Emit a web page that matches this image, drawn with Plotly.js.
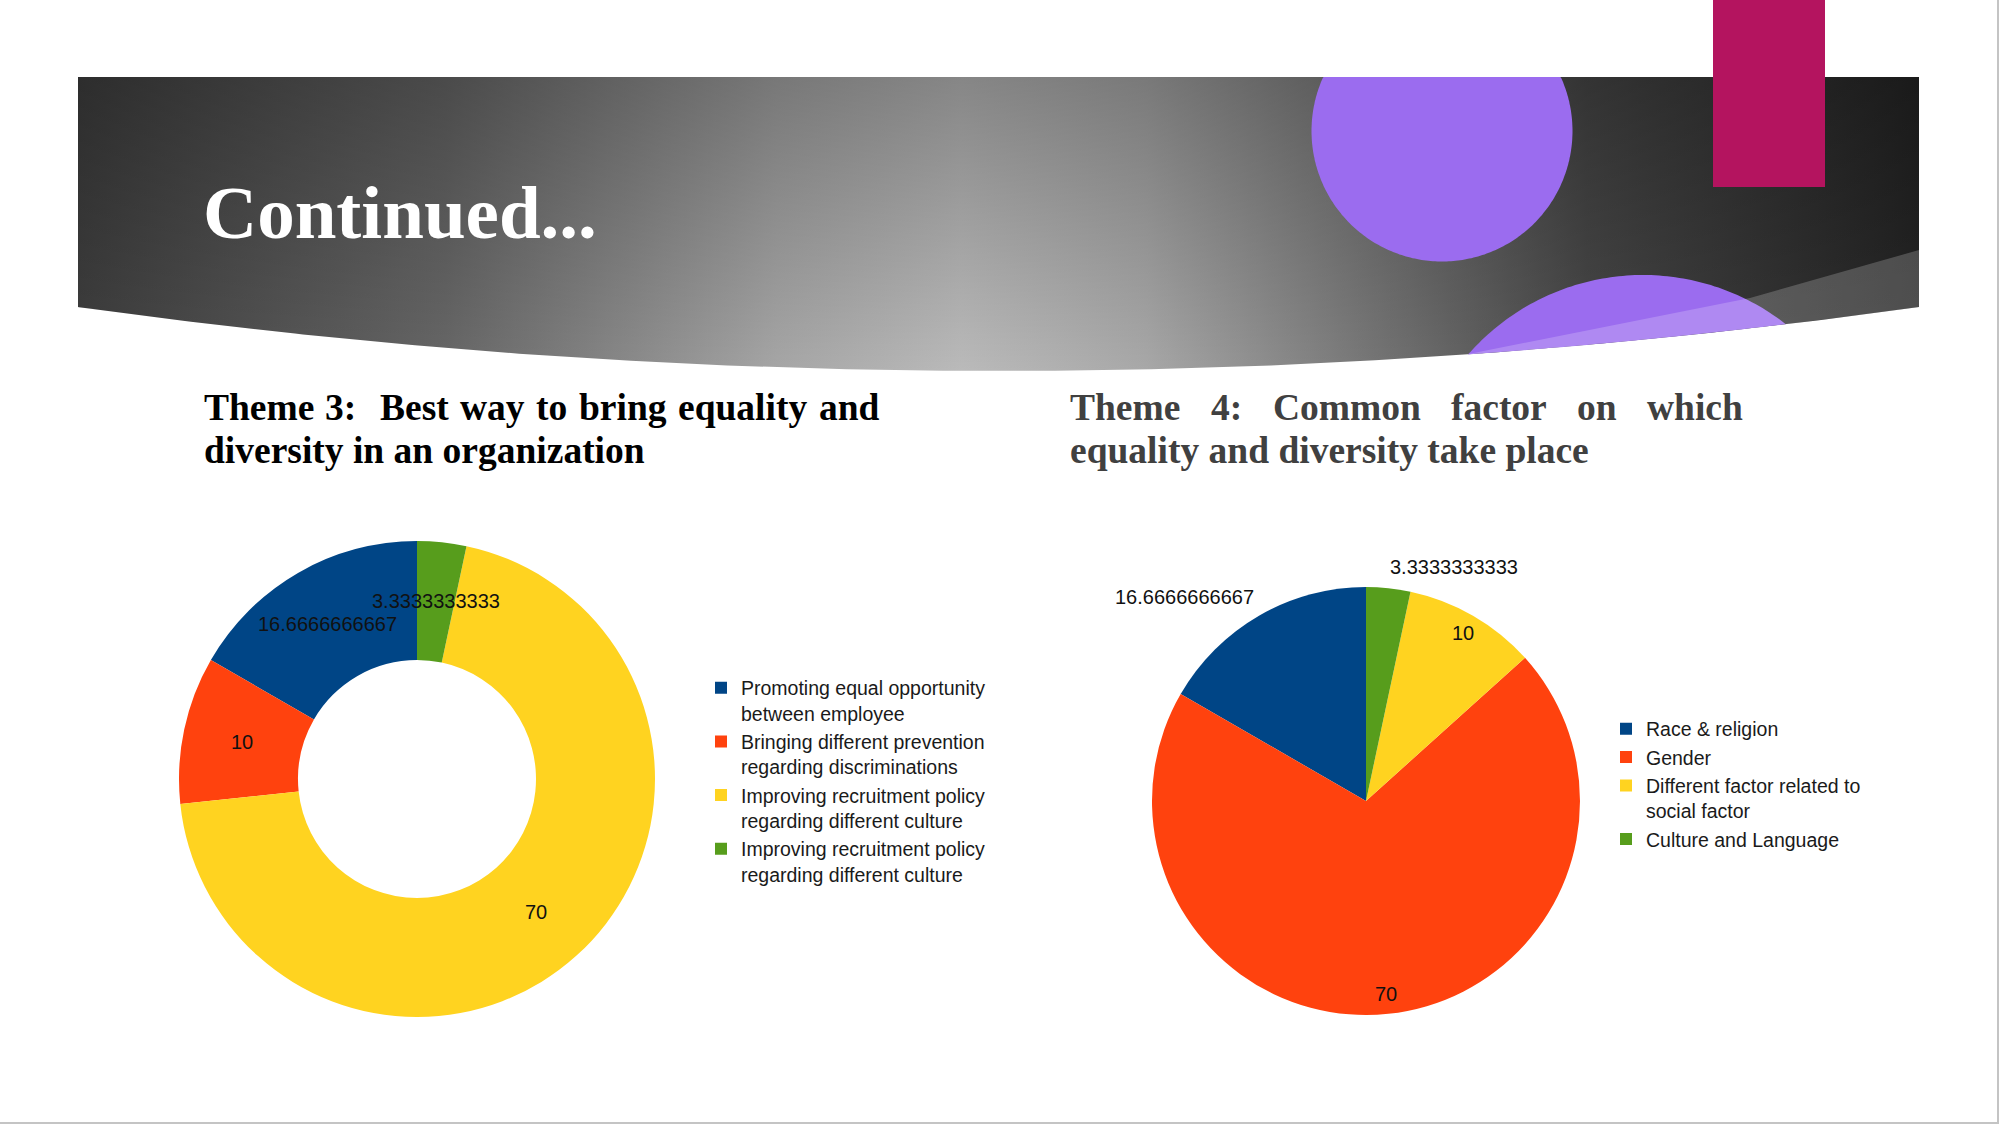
<!DOCTYPE html>
<html>
<head>
<meta charset="utf-8">
<script src="https://cdn.plot.ly/plotly-3.0.1.min.js"></script>
<style>
html, body { margin: 0; padding: 0; background: #ffffff; }
#chart { width: 2001px; height: 1125px; }
</style>
</head>
<body>
<div id="chart"></div>
<script>
// ---------------- DATA ----------------
const slideTitle = 'Continued...';
const theme3TitleLine1Words = ['Theme', '3:', '', 'Best', 'way', 'to', 'bring', 'equality', 'and'];
const theme3TitleLine2 = 'diversity in an organization';
const theme4TitleLine1Words = ['Theme', '4:', 'Common', 'factor', 'on', 'which'];
const theme4TitleLine2 = 'equality and diversity take place';

const theme3Labels = [
  'Promoting equal opportunity<br>between employee',
  'Bringing different prevention<br>regarding discriminations',
  'Improving recruitment policy<br>regarding different culture',
  'Improving recruitment policy<br>regarding different culture\u200B'
];
const theme3Values = [16.6666666667, 10, 70, 3.3333333333];

const theme4Labels = [
  'Race & religion',
  'Gender',
  'Different factor related to<br>social factor',
  'Culture and Language'
];
const theme4Values = [16.6666666667, 70, 10, 3.3333333333];

const theme3Colors = ['#004586', '#FF420E', '#FFD320', '#579D1C'];
const theme4Colors = ['#004586', '#FF420E', '#FFD320', '#579D1C'];

// ---------------- GEOMETRY / STYLE ----------------
const W = 2001, H = 1125;
const donut = { cx: 417, cy: 779, r: 238, hole: 0.5 };
const pie2 = { cx: 1366, cy: 801, r: 214 };
const pie2LabelMode = ['out', 'in', 'in', 'out'];

const bannerL = 78, bannerR = 1919, bannerT = 77, edgeY = 307, sagY = 371;
const midX = (bannerL + bannerR) / 2;
function curveY(x) {
  const k = (sagY - edgeY) / Math.pow((bannerR - bannerL) / 2, 2);
  return sagY - k * (x - midX) * (x - midX);
}

const bannerX = [bannerL, bannerR], bannerY = [bannerT, bannerT];
for (let x = bannerR; x >= bannerL; x -= 8) { bannerX.push(x); bannerY.push(curveY(x)); }
bannerX.push(bannerL); bannerY.push(curveY(bannerL));
bannerX.push(bannerL); bannerY.push(bannerT);

function clippedCircle(cx, cy, r) {
  const pts = [];
  for (let i = 0; i <= 360; i += 1) {
    const t = i * Math.PI / 180;
    const x = cx + r * Math.cos(t);
    let y = cy + r * Math.sin(t);
    y = Math.max(bannerT, Math.min(y, curveY(x)));
    pts.push(x.toFixed(1) + ',' + y.toFixed(1));
  }
  return 'M' + pts.join('L') + 'Z';
}

function overlayPath() {
  const pts = ['1919,250', '1750,298', '1466,' + curveY(1466).toFixed(1)];
  for (let x = 1476; x <= bannerR; x += 10) pts.push(x + ',' + curveY(x).toFixed(1));
  pts.push(bannerR + ',' + curveY(bannerR).toFixed(1));
  return 'M' + pts.join('L') + 'Z';
}

// ---------------- TRACES ----------------
const bannerTrace = {
  type: 'scatter', mode: 'lines', x: bannerX, y: bannerY,
  fill: 'toself', line: { width: 0 }, hoverinfo: 'skip', showlegend: false,
  fillgradient: {
    type: 'horizontal', start: bannerL, stop: bannerR,
    colorscale: [
      [0, '#3e3e3e'], [0.2, '#676767'], [0.38, '#a6a6a6'], [0.48, '#bababa'],
      [0.58, '#a8a8a8'], [0.7, '#777777'], [0.82, '#474747'], [1, '#242424']
    ]
  }
};
const bannerShade = {
  type: 'scatter', mode: 'lines', x: bannerX, y: bannerY,
  fill: 'toself', line: { width: 0 }, hoverinfo: 'skip', showlegend: false,
  fillgradient: {
    type: 'vertical', start: bannerT, stop: sagY,
    colorscale: [[0, 'rgba(0,0,0,0.28)'], [1, 'rgba(0,0,0,0)']]
  }
};

function domainOf(g) {
  return {
    x: [(g.cx - g.r) / W, (g.cx + g.r) / W],
    y: [1 - (g.cy + g.r) / H, 1 - (g.cy - g.r) / H]
  };
}
function sum(a) { return a.reduce((s, v) => s + v, 0); }

// first slice runs counter-clockwise from 12 o'clock
const pieTheme3 = {
  type: 'pie', labels: theme3Labels, values: theme3Values, hole: donut.hole,
  marker: { colors: theme3Colors, line: { width: 0 } },
  sort: false, direction: 'counterclockwise',
  rotation: -theme3Values[0] / sum(theme3Values) * 360,
  textinfo: 'none', domain: domainOf(donut), legend: 'legend',
  hoverinfo: 'label+value'
};
const pieTheme4 = {
  type: 'pie', labels: theme4Labels, values: theme4Values,
  marker: { colors: theme4Colors, line: { width: 0 } },
  sort: false, direction: 'counterclockwise',
  rotation: -theme4Values[0] / sum(theme4Values) * 360,
  textinfo: 'none', domain: domainOf(pie2), legend: 'legend2',
  hoverinfo: 'label+value'
};

// ---------------- DATA LABELS (positioned from the values) ----------------
const labelFont = { family: 'Liberation Sans, Arial, sans-serif', size: 20, color: '#111111' };
function sliceLabels(values, g, modeFn) {
  const total = sum(values);
  let cum = 0;
  return values.map((v, i) => {
    const a0 = cum / total * 2 * Math.PI; cum += v;
    const a1 = cum / total * 2 * Math.PI;
    const mid = (a0 + a1) / 2;
    const dx = -Math.sin(mid), dy = -Math.cos(mid);
    const m = modeFn(i);
    const x = g.cx + dx * g.r * m.f, y = g.cy + dy * g.r * m.f;
    let xanchor = 'center', xshift = 0;
    if (m.out) { xanchor = dx < 0 ? 'right' : 'left'; xshift = dx < 0 ? 8 : -3; }
    return {
      xref: 'x', yref: 'y', x: x, y: y, text: String(v), showarrow: false,
      xanchor: xanchor, yanchor: 'middle', xshift: xshift, font: labelFont
    };
  });
}
const donutLabels = sliceLabels(theme3Values, donut, () => ({ f: (1 + donut.hole) / 2, out: false }));
const pie2Labels = sliceLabels(theme4Values, pie2, i => pie2LabelMode[i] === 'out' ? { f: 1.1, out: true } : { f: 0.905, out: false });

// ---------------- TITLES ----------------
const serif = 'Liberation Serif, Times New Roman, serif';
const themeSize = 37.5;
function titleFont(color, size) { return { family: serif, size: size, color: color, weight: 700 }; }

// justify a line of words between two x positions
const measureCtx = document.createElement('canvas').getContext('2d');
measureCtx.font = 'bold ' + themeSize + 'px "Liberation Serif"';
function justifiedX(words, left, right) {
  const widths = words.map(w => measureCtx.measureText(w).width);
  const gap = (right - left - sum(widths)) / (words.length - 1);
  const xs = []; let x = left;
  words.forEach((w, i) => { xs.push(x); x += widths[i] + gap; });
  return xs;
}

const titleAnnots = [
  { xref: 'x', yref: 'y', x: 201, y: 212, text: slideTitle, showarrow: false, xanchor: 'left', yanchor: 'middle',
    font: titleFont('#ffffff', 75) },
  { xref: 'x', yref: 'y', x: 201.5, y: 450, text: theme3TitleLine2, showarrow: false, xanchor: 'left', yanchor: 'middle',
    font: titleFont('#000000', themeSize) },
  { xref: 'x', yref: 'y', x: 1068, y: 450, text: theme4TitleLine2, showarrow: false, xanchor: 'left', yanchor: 'middle',
    font: titleFont('#404040', themeSize) }
];
const theme3WordX = justifiedX(theme3TitleLine1Words, 201.5, 877);
theme3TitleLine1Words.forEach((w, i) => {
  if (!w) return;
  titleAnnots.push({ xref: 'x', yref: 'y', x: theme3WordX[i], y: 407.5, text: w, showarrow: false,
    xanchor: 'left', yanchor: 'middle', font: titleFont('#000000', themeSize) });
});
const theme4WordX = justifiedX(theme4TitleLine1Words, 1068, 1741);
theme4TitleLine1Words.forEach((w, i) => {
  titleAnnots.push({ xref: 'x', yref: 'y', x: theme4WordX[i], y: 407.5, text: w, showarrow: false,
    xanchor: 'left', yanchor: 'middle', font: titleFont('#404040', themeSize) });
});

// ---------------- SHAPES ----------------
const shapes = [
  { type: 'path', xref: 'x', yref: 'y', layer: 'above', path: clippedCircle(1442, 131, 130.5),
    fillcolor: '#9B6CEF', line: { width: 0 } },
  { type: 'path', xref: 'x', yref: 'y', layer: 'above', path: clippedCircle(1643, 507, 232),
    fillcolor: '#9B6CEF', line: { width: 0 } },
  { type: 'path', xref: 'x', yref: 'y', layer: 'above', path: overlayPath(),
    fillcolor: 'rgba(255,255,255,0.2)', line: { width: 0 } },
  { type: 'rect', xref: 'x', yref: 'y', layer: 'above', x0: 1713, x1: 1825, y0: 0, y1: 187,
    fillcolor: '#B4145F', line: { width: 0 } },
  { type: 'line', xref: 'x', yref: 'y', layer: 'above', x0: 1998, x1: 1998, y0: 0, y1: 1124,
    line: { color: '#c4c4c4', width: 2 } },
  { type: 'line', xref: 'x', yref: 'y', layer: 'above', x0: 0, x1: 1999, y0: 1123, y1: 1123,
    line: { color: '#c4c4c4', width: 2 } }
];

const legendFont = { family: 'Liberation Sans, Arial, sans-serif', size: 19.5, color: '#1a1a1a' };

const layout = {
  width: W, height: H,
  margin: { l: 0, r: 0, t: 0, b: 0, pad: 0 },
  paper_bgcolor: '#ffffff', plot_bgcolor: 'rgba(0,0,0,0)',
  xaxis: { range: [0, W], visible: false, fixedrange: true },
  yaxis: { range: [H, 0], visible: false, fixedrange: true },
  hovermode: 'closest',
  showlegend: true,
  legend: { x: 701 / W, y: 1 - 668.5 / H, xanchor: 'left', yanchor: 'top', bgcolor: 'rgba(0,0,0,0)',
    font: legendFont, valign: 'top', traceorder: 'normal', borderwidth: 0 },
  legend2: { x: 1606 / W, y: 1 - 709.5 / H, xanchor: 'left', yanchor: 'top', bgcolor: 'rgba(0,0,0,0)',
    font: legendFont, valign: 'top', traceorder: 'normal', borderwidth: 0 },
  annotations: titleAnnots.concat(donutLabels, pie2Labels),
  shapes: shapes
};

Plotly.newPlot('chart', [bannerTrace, bannerShade, pieTheme3, pieTheme4], layout,
  { displayModeBar: false, responsive: false });
</script>
</body>
</html>
